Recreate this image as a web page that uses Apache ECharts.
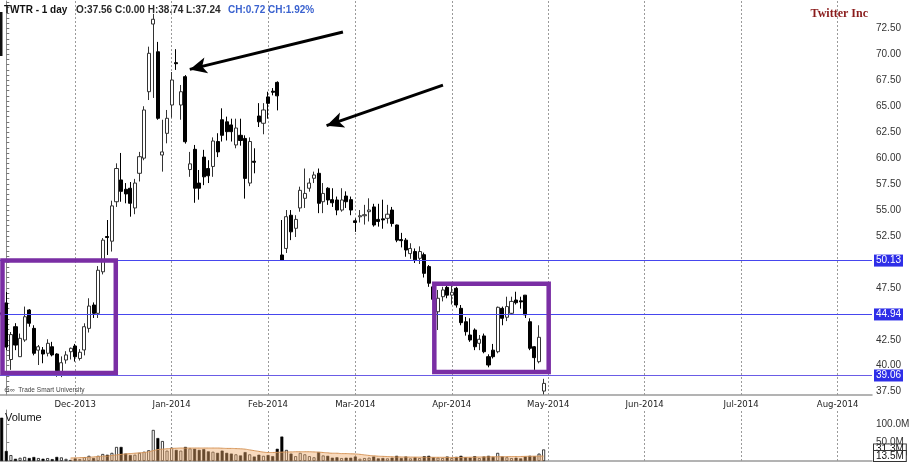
<!DOCTYPE html>
<html><head><meta charset="utf-8">
<script src="https://cdn.jsdelivr.net/npm/echarts@6/dist/echarts.min.js"></script>
<style>html,body{margin:0;padding:0;background:#fff}#c{width:910px;height:462px}</style>
</head><body><div id="c"></div>
<script>
// trading-day index of the first bar (Nov 7 2013 = -1, Nov 8 = 0)
const firstIndex = -1;
// [open, close, low, high]
const ohlc = [
[45.10,44.90,44.00,50.09],
[46.05,41.80,41.50,47.10],
[40.60,43.00,39.60,43.25],
[43.76,41.99,41.50,44.10],
[40.87,42.64,40.85,43.10],
[42.48,44.72,42.30,45.70],
[45.37,44.09,43.76,45.45],
[43.60,41.20,41.00,43.90],
[41.50,41.83,40.07,42.00],
[41.52,41.13,40.24,41.80],
[41.20,42.16,40.90,42.55],
[41.83,41.04,40.90,42.30],
[41.13,39.52,38.95,41.20],
[39.43,40.29,38.90,40.90],
[40.55,41.04,40.20,41.40],
[41.35,41.68,40.60,41.75],
[41.90,40.87,40.40,42.10],
[40.70,41.30,40.50,41.60],
[41.52,43.76,41.00,44.09],
[43.60,45.75,43.20,46.50],
[45.85,45.05,44.60,46.10],
[45.05,49.20,44.60,49.60],
[49.05,52.10,48.80,52.30],
[52.45,52.35,50.67,54.04],
[52.00,55.40,51.00,55.90],
[55.80,59.00,55.30,59.50],
[57.90,56.80,55.80,60.50],
[57.00,56.55,55.65,57.60],
[57.10,55.65,54.36,57.70],
[55.20,57.60,54.60,58.00],
[58.54,60.14,57.75,60.60],
[60.00,64.64,59.80,65.00],
[66.40,70.10,65.60,70.74],
[72.92,73.38,65.80,73.90],
[70.25,63.84,63.70,71.20],
[60.30,60.60,58.70,63.70],
[62.39,63.84,61.43,64.64],
[65.12,67.53,63.90,68.30],
[69.20,69.10,68.50,70.50],
[65.12,66.40,63.70,67.05],
[67.85,61.58,61.40,68.00],
[58.90,59.45,58.20,60.60],
[60.85,57.10,55.70,61.27],
[57.60,57.10,56.00,58.86],
[60.10,58.20,57.40,60.80],
[59.00,58.30,57.60,59.80],
[59.20,61.65,58.20,62.00],
[61.60,60.60,60.10,62.40],
[63.70,62.20,61.60,64.80],
[63.50,62.55,61.70,64.00],
[63.20,62.55,61.60,63.80],
[61.27,62.90,60.95,63.80],
[62.20,61.70,61.20,63.80],
[61.90,58.05,56.10,62.20],
[57.60,61.60,57.30,62.00],
[59.70,59.60,58.54,60.95],
[64.06,63.50,63.00,65.30],
[63.36,64.64,62.30,65.30],
[65.90,65.28,63.80,66.40],
[66.45,66.35,66.05,66.75],
[67.30,66.00,64.60,67.40],
[50.67,50.18,50.10,54.04],
[51.30,54.36,50.86,55.00],
[54.50,52.90,52.10,55.00],
[53.24,54.10,52.40,54.50],
[55.20,56.90,54.84,57.25],
[56.13,56.60,55.20,59.00],
[57.10,57.60,56.77,58.06],
[58.06,58.38,57.60,58.70],
[58.54,55.65,54.70,59.00],
[55.80,56.60,54.70,57.60],
[57.10,55.97,55.50,57.20],
[56.00,55.70,55.30,57.10],
[55.97,55.00,54.50,56.30],
[55.00,55.97,54.84,57.10],
[56.35,55.80,55.20,56.80],
[56.00,55.00,54.50,56.30],
[53.96,53.80,52.90,54.20],
[54.35,54.45,53.80,55.00],
[54.45,54.55,53.60,55.50],
[54.84,55.00,53.90,56.13],
[55.30,53.56,53.40,55.60],
[54.10,53.90,53.40,55.60],
[54.15,54.05,53.20,56.00],
[54.20,54.60,53.70,55.50],
[55.00,53.70,53.40,55.30],
[53.56,52.10,51.90,53.60],
[52.15,52.05,51.40,52.80],
[52.10,51.15,50.50,52.30],
[50.80,51.30,50.30,51.80],
[51.00,50.20,49.90,51.30],
[50.35,51.00,49.80,51.50],
[50.70,48.90,48.50,50.90],
[49.55,47.95,47.60,49.70],
[47.60,46.40,46.00,48.00],
[45.20,46.50,43.44,47.30],
[46.65,47.30,46.20,47.60],
[47.55,46.80,46.50,47.80],
[46.80,47.08,45.90,47.80],
[47.46,45.85,45.60,47.60],
[45.53,44.15,43.90,45.85],
[44.24,43.28,42.90,44.70],
[42.96,42.48,42.30,44.57],
[43.44,41.83,41.50,43.60],
[42.16,42.55,41.50,42.96],
[42.87,41.35,41.20,43.10],
[40.87,40.07,39.85,41.10],
[41.50,40.87,40.70,42.10],
[41.35,45.63,41.20,45.70],
[45.53,44.57,43.90,45.70],
[44.67,45.70,44.30,46.65],
[45.05,46.20,44.90,46.65],
[46.33,46.07,45.90,47.13],
[46.25,46.15,45.50,46.65],
[46.80,44.90,44.60,46.80],
[44.24,41.68,41.50,44.57],
[41.83,40.78,39.60,41.90],
[40.39,42.74,40.23,43.90],
[37.56,38.30,37.24,38.74]
];
// volume in millions, same order as ohlc
const volumes = [
117,27,16,6,8.7,11,8,10.7,8,6.2,7.9,5,11,9.8,5.8,3,
7,5.3,10.5,14,8,14,19,17,22,38,38,20,16,17,22,25,29,84,62,54,28,
36,30,28,38,34,33,30,32,26,25,22,28,22,20,18,15,24,18,12,17,14,
16,13,33,66,30,20,13,22,18,13,10,24,15,14,9,10,8,9,9,
12,6,8,9,12,7,8,7,9,14,8,12,7,10,8,13,14,10,9,8,12,
8,11,14,10,9,13,8,12,14,11,22,12,10,8,9,7,12,14,13,20,31.3
];
// volume moving average (millions), starting at index maStart
const maStart = 14;
const volumeMA = [
8,8.5,9,9.5,10,11,12,13,13.5,15,16.5,18,19,20,21,22,23,25,28,31,32,33,
34,34.5,35,35,35,35,35,35,35,35,35,34.5,34,34,33.5,33,32,30,28,26,24,
23,23,23.5,24,24.5,24.5,25,25,25,25,24.5,24,23,22,21,21,20,20,19.5,
19,18,16.5,15,14,13,12.5,12,11.5,11,11,10.8,10.6,10.5,10.4,10.3,10.2,10,10,10,9.8,
9.7,9.7,9.8,10,10.2,10.5,10.8,11,11.2,11.5,11.6,11.6,11.8,12,12,12.2,12.5,12.8,13,13.2,13.5
];
const monthIdx = [15,36,57,76,97,118,139,160,181];
const monthLabels = ['Dec-2013','Jan-2014','Feb-2014','Mar-2014','Apr-2014','May-2014','Jun-2014','Jul-2014','Aug-2014'];
const priceTicks = [37.5,40,42.5,45,47.5,50,52.5,55,57.5,60,62.5,65,67.5,70,72.5];
const levels = [50.13, 44.94, 39.06];
const volTicks = [50, 100];
const volTags = [31.3, 13.5];
const boxes = [
  {x0:-0.83, x1:23.84, top:50.13, bottom:39.3},
  {x0:93.2, x1:118.1, top:47.9, bottom:39.4}
];
const arrows = [
  {from:[73.3,72.15], to:[39.95,68.55]},
  {from:[95.08,67.04], to:[69.74,63.13]}
];

const X_MIN = -1.37, X_MAX = 188.5;
const minorTicks = [];
for (let v = 37.5; v <= 75.01; v += 0.5) minorTicks.push(+v.toFixed(2));

const candleData = ohlc.map((d, i) => [i + firstIndex, d[0], d[1], d[2], d[3]]);
const volData = volumes.map((v, i) => {
  const c = ohlc[i] || [0, 0];
  const down = c[1] < c[0];
  return {value: [i + firstIndex, v],
    itemStyle: down ? {color:'#000', borderColor:'#000', borderWidth:0.6}
                    : {color:'#fff', borderColor:'#111', borderWidth:0.8}};
});
const maData = volumeMA.map((v, i) => [i + maStart, v]);

const gridLineStyle = {color:'#9a9a9a', type:[2,2], width:1};
const monthLines = monthIdx.map(v => ({xAxis: v}));

const chart = echarts.init(document.getElementById('c'), null, {renderer:'canvas'});
chart.setOption({
  animation: false,
  backgroundColor: '#fff',
  grid: [
    {left:0, right:38, top:1, height:394, outerBoundsMode:'none'},
    {left:0, right:38, top:410, height:51, outerBoundsMode:'none'}
  ],
  xAxis: [
    {type:'value', gridIndex:0, min:X_MIN, max:X_MAX, position:'bottom',
     axisLine:{show:true, lineStyle:{color:'#9a9a9a', width:1.5}},
     axisTick:{show:false}, splitLine:{show:false},
     axisLabel:{customValues: monthIdx, margin:5, fontSize:9.5, color:'#222',
       fontFamily:"'Liberation Sans Narrow','Arial Narrow','DejaVu Sans Condensed',sans-serif",
       formatter: v => monthLabels[monthIdx.indexOf(v)] || ''}},
    {type:'value', gridIndex:1, min:X_MIN, max:X_MAX, position:'top',
     axisLine:{show:true, lineStyle:{color:'#9a9a9a', width:1.5}},
     axisTick:{show:false}, splitLine:{show:false}, axisLabel:{show:false}}
  ],
  yAxis: [
    {type:'value', gridIndex:0, position:'right', min:37.18, max:75.14,
     axisLine:{show:true, lineStyle:{color:'#8a8a8a'}},
     axisTick:{show:true, customValues: minorTicks, length:3, lineStyle:{color:'#777'}},
     splitLine:{show:false},
     axisLabel:{customValues: priceTicks, margin:4, fontSize:10, color:'#333',
       fontFamily:"'Liberation Sans',Arial,sans-serif", formatter: v => v.toFixed(2)}},
    {type:'value', gridIndex:1, position:'right', min:0, max:137.8,
     axisLine:{show:true, lineStyle:{color:'#8a8a8a'}},
     axisTick:{show:true, customValues: volTicks, length:3},
     splitLine:{show:false},
     axisLabel:{customValues: volTicks, margin:4, fontSize:10, color:'#333',
       fontFamily:"'Liberation Sans',Arial,sans-serif", formatter: v => v.toFixed(1) + 'M'}}
  ],
  series: [
    {type:'candlestick', xAxisIndex:0, yAxisIndex:0, encode:{x:0, y:[1,2,3,4]},
     data: candleData, barWidth:3.6,
     itemStyle:{color:'#fff', color0:'#000', borderColor:'#333', borderColor0:'#000', borderWidth:1},
     markLine:{silent:true, symbol:['none','none'], z:1, label:{show:false},
       lineStyle:gridLineStyle, data: monthLines}},
    {type:'line', name:'levels', xAxisIndex:0, yAxisIndex:0, data:[],
     markLine:{silent:true, symbol:['none','none'], z:6,
       data: levels.map((v, i) => ({yAxis: v,
         lineStyle:{color: i === 2 ? '#6a5ce6' : '#4646ee', width:1.2, type:'solid'},
         label:{show:true, position:'end', distance:2, formatter: p => Number(p.value).toFixed(2),
           backgroundColor:'#2e2ee8', color:'#fff', fontSize:10, padding:[1,2],
           fontFamily:"'Liberation Sans',Arial,sans-serif"}}))}},
    {type:'line', name:'boxes', xAxisIndex:0, yAxisIndex:0, data:[],
     markArea:{silent:true, z:10,
       itemStyle:{color:'rgba(0,0,0,0)', borderColor:'#7a2ea4', borderWidth:4.5},
       data: boxes.map(b => [{coord:[b.x0, b.top]}, {coord:[b.x1, b.bottom]}])}},
    {type:'line', name:'arrows', xAxisIndex:0, yAxisIndex:0, data:[],
     markLine:{silent:true, z:11, label:{show:false},
       lineStyle:{color:'#000', width:3, type:'solid'},
       data: arrows.map(a => [{coord:a.from, symbol:'none'},
                              {coord:a.to, symbol:'arrow', symbolSize:[12,17]}])}},
    {type:'bar', xAxisIndex:1, yAxisIndex:1, data: volData, barWidth:3, z:2,
     markLine:{silent:true, symbol:['none','none'], z:1, label:{show:false},
       lineStyle:gridLineStyle, data: monthLines}},
    {type:'line', xAxisIndex:1, yAxisIndex:1, data: maData, smooth:true, showSymbol:false, z:3,
     lineStyle:{color:'#d69558', width:1}, areaStyle:{color:'rgba(240,170,105,0.62)'},
     markLine:{silent:true, symbol:['none','none'], z:6,
       data: volTags.map(v => ({yAxis: v, lineStyle:{color:'rgba(0,0,0,0)', width:0},
         label:{show:true, position:'end', distance:2, formatter: p => Number(p.value).toFixed(1) + 'M',
           backgroundColor:'#fff', borderColor:'#333', borderWidth:1, color:'#111',
           fontSize:10, padding:[0,2], fontFamily:"'Liberation Sans',Arial,sans-serif"}}))}}
  ],
  graphic: [
    {type:'rect', left:0, top:12, shape:{width:2.5, height:44}, style:{fill:'#111'}, z:100},
    {type:'text', x:4, y:10.5, z:100, style:{text:'TWTR - 1 day', fill:'#111',
      font:"bold 10px 'Liberation Sans',Arial,sans-serif", verticalAlign:'middle'}},
    {type:'text', x:76, y:10.5, z:100, style:{text:'O:37.56 C:0.00 H:38.74 L:37.24', fill:'#2a2a2a',
      font:"bold 10px 'Liberation Sans',Arial,sans-serif", verticalAlign:'middle'}},
    {type:'text', x:228, y:10.5, z:100, style:{text:'CH:0.72 CH:1.92%', fill:'#3a62cf',
      font:"bold 10px 'Liberation Sans',Arial,sans-serif", verticalAlign:'middle'}},
    {type:'text', x:868, y:14, z:100, style:{text:'Twitter Inc', fill:'#8a1b1b', align:'right',
      font:"bold 12px 'Liberation Serif','Times New Roman',serif", verticalAlign:'middle'}},
    {type:'text', x:4, y:390, z:100, style:{text:'\u2296\u221e  Trade Smart University', fill:'#444',
      font:"6.5px 'Liberation Sans',Arial,sans-serif", verticalAlign:'middle'}},
    {type:'text', x:5, y:417.5, z:100, style:{text:'Volume', fill:'#111',
      font:"11px 'Liberation Sans',Arial,sans-serif", verticalAlign:'middle'}}
  ]
});
</script></body></html>
